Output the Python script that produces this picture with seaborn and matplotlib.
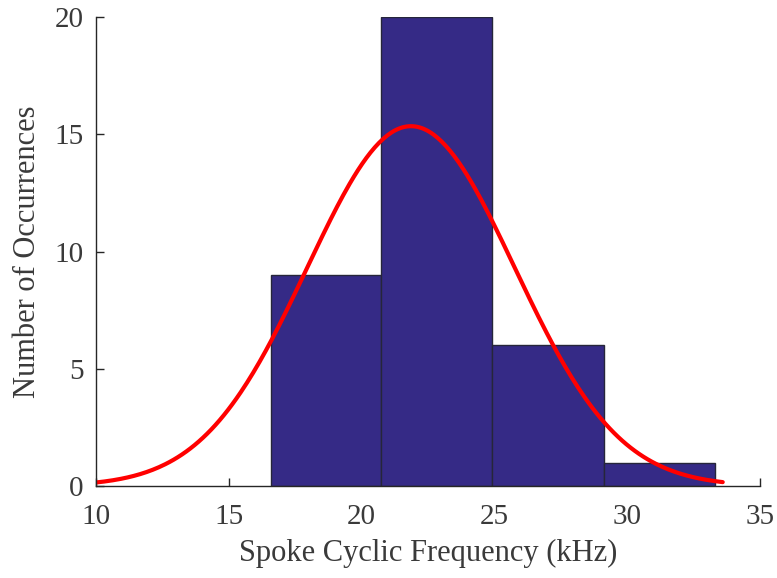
import numpy as np
import pandas as pd
import matplotlib
matplotlib.use("Agg")
import matplotlib.pyplot as plt
import seaborn as sns

# Histogram data
bin_edges = [16.59, 20.73, 24.91, 29.13, 33.30]
counts = [9, 20, 6, 1]
# Fitted normal curve parameters
fit_mean = 21.86
fit_sigma = 3.91
curve_start = 10.0
curve_end = 33.6
x_ticks = [10, 15, 20, 25, 30, 35]
y_ticks = [0, 5, 10, 15, 20]

sns.set_style("white")
plt.rcParams['font.family'] = ['Liberation Serif', 'DejaVu Serif']

fig = plt.figure(figsize=(7.77, 5.78), dpi=100)
ax = fig.add_axes([0.1236, 0.159, 0.978 - 0.1236, 0.9706 - 0.159])

centers = [(bin_edges[i] + bin_edges[i + 1]) / 2 for i in range(len(counts))]
df = pd.DataFrame({"freq": centers, "n": counts})
sns.histplot(data=df, x="freq", weights="n", bins=bin_edges, ax=ax,
             color="#352A86", alpha=1.0, edgecolor="#26263a", linewidth=1.0)

bw = np.mean(np.diff(bin_edges))
N = sum(counts)
xs = np.linspace(curve_start, curve_end, 300)
ys = N * bw * np.exp(-0.5 * ((xs - fit_mean) / fit_sigma) ** 2) / (fit_sigma * np.sqrt(2 * np.pi))
sns.lineplot(x=xs, y=ys, ax=ax, color="#FF0000", linewidth=3.0)

ax.set_xlim(10, 35)
ax.set_ylim(0, 20)
ax.set_xticks(x_ticks)
ax.set_yticks(y_ticks)
ax.tick_params(axis="both", direction="in", length=6, width=1, color="#262626",
               labelcolor="#3a3a3a", labelsize=21, bottom=True, left=True)
ax.tick_params(axis="x", pad=13)
ax.tick_params(axis="y", pad=9)
for s in ["top", "right"]:
    ax.spines[s].set_visible(False)
for s in ["left", "bottom"]:
    ax.spines[s].set_color("#262626")
    ax.spines[s].set_linewidth(1.0)
ax.set_xlabel("Spoke Cyclic Frequency (kHz)", fontsize=22, color="#3a3a3a", labelpad=6)
ax.set_ylabel("Number of Occurrences", fontsize=22, color="#3a3a3a", labelpad=9)

fig.savefig("out.png", dpi=100)
